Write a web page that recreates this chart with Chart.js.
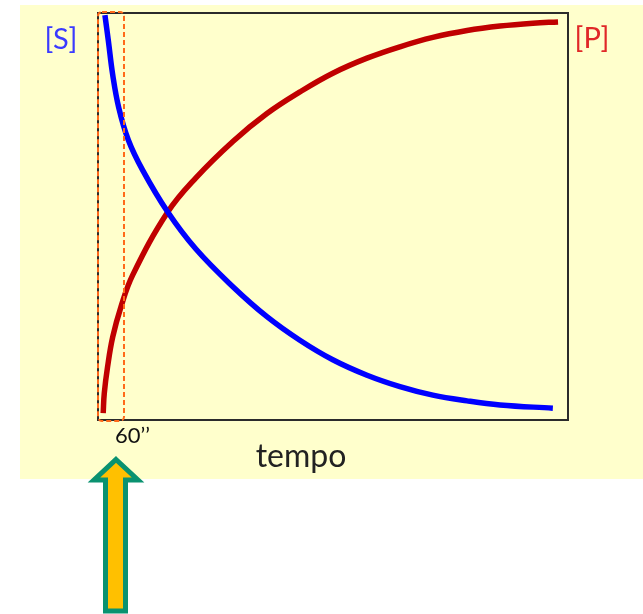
<!DOCTYPE html>
<html>
<head>
<meta charset="utf-8">
<script src="https://cdn.jsdelivr.net/npm/chart.js@4.4.1/dist/chart.umd.min.js"></script>
<style>
  html, body { margin: 0; padding: 0; background: #fff; }
  #wrap { position: relative; width: 643px; height: 614px; }
</style>
</head>
<body>
<div id="wrap"><canvas id="kinetics" width="643" height="614"></canvas></div>
<script>
// substrate [S] over time (seconds, % of initial)
const sTime   = [16, 24, 34, 48, 70, 103, 161, 226, 312, 390, 466, 542, 621, 697, 773, 852, 928, 1050];
const sValues = [99.5, 93.1, 84.8, 76.7, 68.8, 61.4, 51.1, 42.0, 32.7, 25.4, 19.6, 14.8, 11.0, 8.2, 6.1, 4.7, 3.7, 2.9];

// product [P] over time
const pTime   = [12, 14.5, 22, 34, 53, 80, 161, 226, 312, 390, 466, 542, 621, 697, 773, 852, 928, 1004, 1062];
const pValues = [1.7, 6.6, 13, 20.4, 27.8, 35.6, 51.1, 59.5, 68.5, 75.3, 80.6, 85.2, 88.9, 91.7, 94.0, 95.7, 96.8, 97.5, 97.8];

const timeMax = 1085;
const markTime = 60;
const xTitle = 'tempo';
const markLabel = '60\u2019\u2019';
const sLabel = '[S]';
const pLabel = '[P]';

const BG = '#ffffcc';

// yellow panel behind everything
const panelPlugin = {
    id: 'panel',
    beforeDraw(chart) {
        const ctx = chart.ctx;
        ctx.save();
        ctx.fillStyle = '#ffffff';
        ctx.fillRect(0, 0, chart.width, chart.height);
        ctx.fillStyle = BG;
        ctx.fillRect(20, 5, 623, 474);
        ctx.restore();
    }
};

// box, 60'' window, labels and arrow
const decorPlugin = {
    id: 'decor',
    afterDatasetsDraw(chart) {
        const ctx = chart.ctx;
        const a = chart.chartArea;
        const x = chart.scales.x;
        ctx.save();

        // plot frame
        ctx.strokeStyle = '#2b2b2b';
        ctx.lineWidth = 2;
        ctx.strokeRect(a.left, a.top, a.right - a.left, a.bottom - a.top);

        // dashed window up to 60''
        const x0 = x.getPixelForValue(0);
        const x1 = x.getPixelForValue(markTime);
        ctx.strokeStyle = '#ff6a1a';
        ctx.lineWidth = 2;
        ctx.setLineDash([5, 3]);
        ctx.beginPath();
        ctx.roundRect(x0, a.top - 1, x1 - x0, a.bottom - a.top + 2, 4);
        ctx.stroke();
        ctx.setLineDash([]);

        // texts
        ctx.textBaseline = 'alphabetic';
        ctx.font = '22px Lato';
        ctx.fillStyle = '#111';
        ctx.textAlign = 'left';
        ctx.fillText(markLabel, x1 - 9, 443);

        ctx.font = '32px Lato';
        ctx.fillStyle = '#222';
        ctx.textAlign = 'center';
        ctx.fillText(xTitle, 301, 467);

        ctx.font = '29px Lato';
        ctx.fillStyle = '#3a3aff';
        ctx.fillText(sLabel, 61, 49);
        ctx.fillStyle = '#e02828';
        ctx.fillText(pLabel, 592, 48);

        // arrow pointing at the 60'' window
        ctx.beginPath();
        ctx.moveTo(116, 459.5);
        ctx.lineTo(138, 480);
        ctx.lineTo(125.5, 480);
        ctx.lineTo(125.5, 611);
        ctx.lineTo(105.5, 611);
        ctx.lineTo(105.5, 480);
        ctx.lineTo(94, 480);
        ctx.closePath();
        ctx.fillStyle = '#ffc000';
        ctx.fill();
        ctx.lineJoin = 'miter';
        ctx.lineWidth = 5;
        ctx.strokeStyle = '#0a9270';
        ctx.stroke();

        ctx.restore();
    }
};

new Chart(document.getElementById('kinetics').getContext('2d'), {
    type: 'line',
    data: {
        datasets: [{
            label: sLabel,
            data: sTime.map((t, i) => ({ x: t, y: sValues[i] })),
            borderColor: '#0000ff',
            borderWidth: 5.5,
            pointRadius: 0,
            tension: 0.4,
            clip: false
        }, {
            label: pLabel,
            data: pTime.map((t, i) => ({ x: t, y: pValues[i] })),
            borderColor: '#c00000',
            borderWidth: 5.5,
            pointRadius: 0,
            tension: 0.4,
            clip: false
        }]
    },
    options: {
        responsive: false,
        animation: false,
        layout: { padding: { left: 98, right: 75, top: 13, bottom: 194 } },
        plugins: { legend: { display: false }, tooltip: { enabled: false } },
        scales: {
            x: { type: 'linear', min: 0, max: timeMax, display: false },
            y: { min: 0, max: 100, display: false }
        }
    },
    plugins: [panelPlugin, decorPlugin]
});
</script>
</body>
</html>
